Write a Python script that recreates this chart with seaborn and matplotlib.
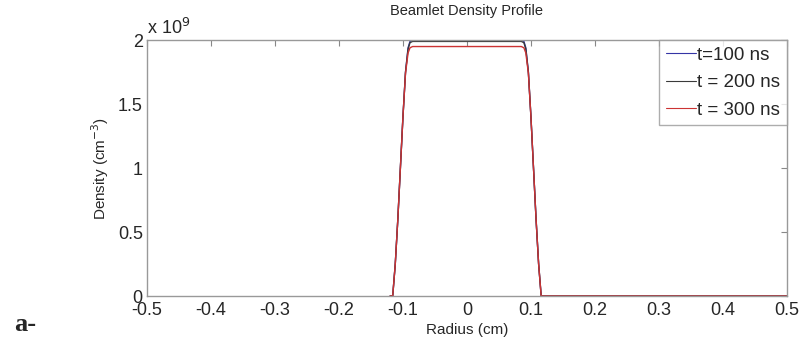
import numpy as np
import pandas as pd
import matplotlib
matplotlib.use("Agg")
import matplotlib.pyplot as plt
import seaborn as sns

# Data (density in units of 1e9 cm^-3)
radius = [-0.12, -0.116, -0.112, -0.108, -0.104, -0.100, -0.096, -0.092, -0.089, -0.085,
          0.0, 0.085, 0.089, 0.092, 0.096, 0.100, 0.104, 0.108, 0.112, 0.116, 0.12, 0.3, 0.5]
dens_100 = [0.0, 0.0, 0.25, 0.6, 1.0, 1.4, 1.75, 1.94, 1.99, 2.0,
            2.0, 2.0, 1.99, 1.94, 1.75, 1.4, 1.0, 0.6, 0.25, 0.0, 0.0, 0.0, 0.0]
dens_200 = [0.0, 0.0, 0.25, 0.6, 1.0, 1.4, 1.75, 1.93, 1.98, 1.99,
            1.99, 1.99, 1.98, 1.93, 1.75, 1.4, 1.0, 0.6, 0.25, 0.0, 0.0, 0.0, 0.0]
dens_300 = [0.0, 0.0, 0.25, 0.6, 1.0, 1.4, 1.74, 1.9, 1.94, 1.95,
            1.95, 1.95, 1.94, 1.9, 1.74, 1.4, 1.0, 0.6, 0.25, 0.0, 0.0, 0.0, 0.0]
labels = ["t=100 ns", "t = 200 ns", "t = 300 ns"]
colors = ["#3535a5", "#3a3a3a", "#cc3333"]
xticks = [-0.5, -0.4, -0.3, -0.2, -0.1, 0, 0.1, 0.2, 0.3, 0.4, 0.5]
xticklabels = ["-0.5", "-0.4", "-0.3", "-0.2", "-0.1", "0", "0.1", "0.2", "0.3", "0.4", "0.5"]
yticks = [0, 0.5, 1, 1.5, 2]
yticklabels = ["0", "0.5", "1", "1.5", "2"]

df = pd.concat([
    pd.DataFrame({"Radius": radius, "Density": d, "Time": lab})
    for d, lab in zip([dens_100, dens_200, dens_300], labels)
])

sns.set_style("white")
plt.rcParams['font.family'] = ['Liberation Sans', 'DejaVu Sans']

fig = plt.figure(figsize=(8.03, 3.46), dpi=100)
ax = fig.add_axes([0.183, 0.1445, 0.797, 0.7395])

sns.lineplot(data=df, x="Radius", y="Density", hue="Time", hue_order=labels,
             palette=colors, linewidth=1.0, ax=ax, estimator=None, sort=False)

ax.set_xlim(-0.5, 0.5)
ax.set_ylim(0, 2)
ax.set_xticks(xticks)
ax.set_xticklabels(xticklabels, fontsize=13)
ax.set_yticks(yticks)
ax.set_yticklabels(yticklabels, fontsize=13)
ax.tick_params(axis="x", pad=4)
ax.tick_params(axis="y", pad=3)
ax.tick_params(direction="in", top=True, right=True, length=4, color="#888888",
               width=0.8)
for s in ax.spines.values():
    s.set_color("#999999")
    s.set_linewidth(1.0)

ax.set_xlabel("Radius (cm)", fontsize=11, labelpad=3)
ax.set_ylabel("Density (cm$^{-3}$)", fontsize=11, labelpad=5)
ax.set_title("Beamlet Density Profile", fontsize=10.5, pad=18)
ax.text(0.0, 1.01, r"x 10$^{9}$", transform=ax.transAxes, fontsize=13,
        ha="left", va="bottom")

leg = ax.legend(loc="upper right", fontsize=13.5, frameon=True, fancybox=False,
                handlelength=1.6, handletextpad=0.1, borderpad=0.35,
                labelspacing=0.55, borderaxespad=0.0)
leg.get_frame().set_edgecolor("#999999")
leg.get_frame().set_linewidth(1.0)
for line in leg.get_lines():
    line.set_linewidth(0.8)

fig.text(0.018, 0.03, "a-", fontsize=19, fontweight="bold",
         family=["Liberation Serif", "DejaVu Serif"], ha="left", va="bottom")

fig.savefig("out.png", dpi=100)
